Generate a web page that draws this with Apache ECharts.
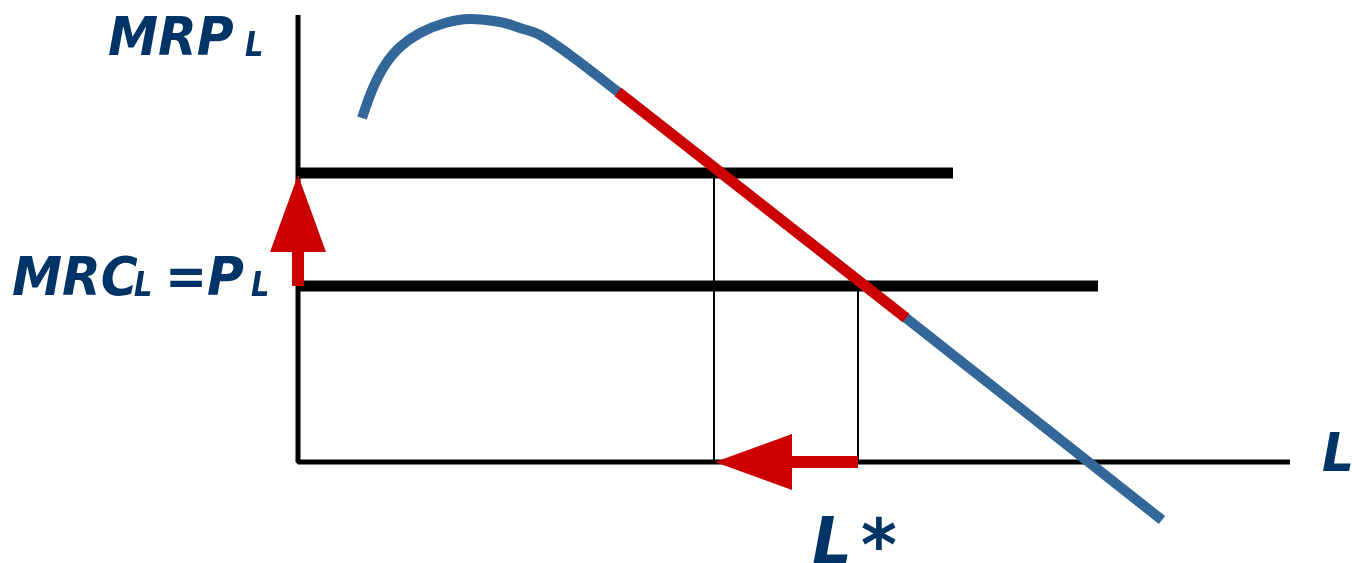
<!DOCTYPE html>
<html>
<head>
<meta charset="utf-8">
<script src="https://cdn.jsdelivr.net/npm/echarts@6/dist/echarts.min.js"></script>
<style>
  html, body { margin: 0; padding: 0; background: #fff; }
  #J_Main { width: 1352px; height: 563px; }
</style>
</head>
<body>
<div id="J_Main"></div>
<script>
// diagram units: origin where the two axes meet
var axisV = [[0, 447], [0, 0], [992, 0]];
var wageLevels = [289, 176];          // new (higher) wage, old wage
var wageLineEnds = [655, 800];
var laborLevels = [416, 560];         // L*, old L
var mrpCurve = [[64, 344], [75, 374], [87, 397], [102, 415], [122, 429], [147, 439], [172, 443],
    [202, 440], [222, 434], [242, 427], [272, 407], [320, 370], [608, 144], [864, -58]];
var mrpHighlight = [[320, 370], [608, 144]];
var upShaft = [[0, 176], [0, 222]];
var leftShaft = [[560, 0], [488, 0]];
var arrowHeads = [[0, 248.5, 0], [455.5, 0, 90]];   // x, y, rotate

var BLUE = "#336699", RED = "#cc0000", NAVY = "#003366";
function font(s){ return "bold italic " + s + "px 'DejaVu Sans'"; }

var myChart = echarts.init(document.getElementById("J_Main"));

function seg(data, color, width, z){
    return {
        type: 'line', data: data, symbol: 'none', z: z, silent: true,
        lineStyle: { color: color, width: width, cap: 'butt' }
    };
}

var series = [];
series.push(seg(axisV, '#000', 5, 1));
wageLevels.forEach(function(w, i){
    series.push(seg([[0, w], [wageLineEnds[i], w]], '#000', 11, 2));
});
laborLevels.forEach(function(l, i){
    series.push(seg([[l, wageLevels[i]], [l, 0]], '#000', 2, 2));
});
var mrp = seg(mrpCurve, BLUE, 10, 3);
mrp.smooth = 0.35;
series.push(mrp);
series.push(seg(mrpHighlight, RED, 11, 4));
series.push(seg(upShaft, RED, 12, 5));
series.push(seg(leftShaft, RED, 12, 5));
series.push({
    type: 'scatter', z: 6, silent: true,
    symbol: 'triangle', symbolSize: [56, 77],
    symbolRotate: function(v){ return v[2]; },
    itemStyle: { color: RED, opacity: 1 },
    data: arrowHeads
});

// x = left origin, b = baseline, s = font size, sx = horizontal squeeze
function txt(t, x, b, s, sx){
    return {
        type: 'text', z: 10, x: x, y: b - 0.29 * s, scaleX: sx || 0.95,
        style: { text: t, x: 0, y: 0, font: font(s), fill: NAVY, verticalAlign: 'middle' }
    };
}

var option = {
    animation: false,
    grid: { left: 0, right: 0, top: 0, bottom: 0 },
    xAxis: { type: 'value', min: -298, max: 1054, show: false },
    yAxis: { type: 'value', min: -101, max: 462, show: false },
    series: series,
    graphic: [
        txt("MRP", 108, 57, 53), txt("L", 245, 57, 34, 0.85),
        txt("MRC", 12, 297, 53), txt("L", 134, 297, 34, 0.85), txt("=", 165, 297, 53),
        txt("P", 207, 297, 53), txt("L", 251, 297, 34, 0.85),
        txt("L", 1322, 473, 53),
        txt("L", 812, 566, 66), txt("*", 861, 572, 72)
    ]
};
myChart.setOption(option);
</script>
</body>
</html>
